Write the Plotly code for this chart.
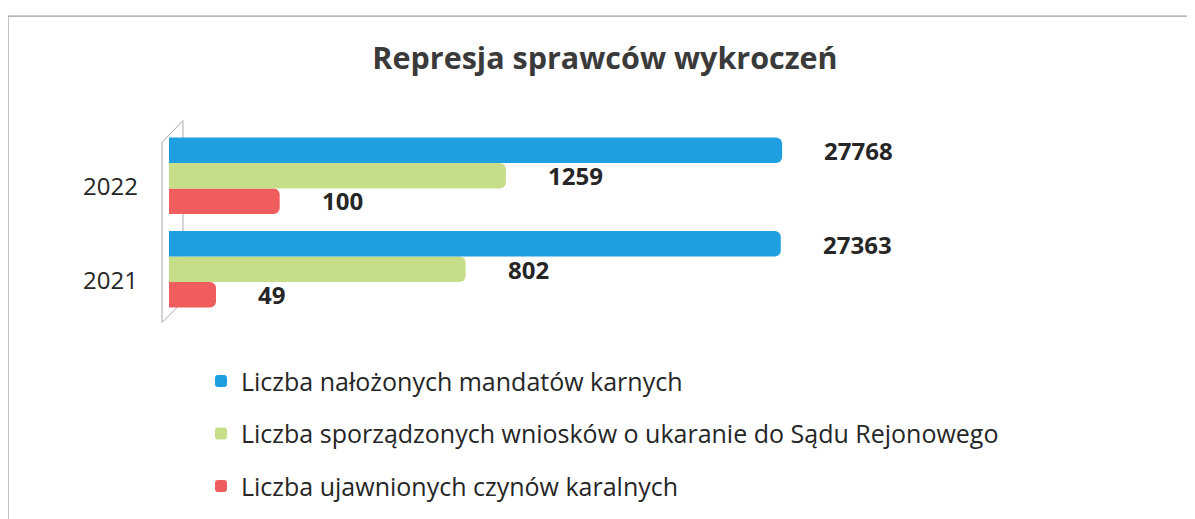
import math
import plotly.graph_objects as go

years = ["2021", "2022"]
series_names = [
    "Liczba nałożonych mandatów karnych",
    "Liczba sporządzonych wniosków o ukaranie do Sądu Rejonowego",
    "Liczba ujawnionych czynów karalnych",
]
mandaty = [27363, 27768]
wnioski = [802, 1259]
czyny = [49, 100]

colors = ["#1f9ee0", "#c6de8a", "#ef5d5f"]
FONT = "'Open Sans', Lato, sans-serif"

fig = go.Figure()
# traces added bottom-to-top within each group (red, green, blue)
data = [(series_names[2], czyny, colors[2], -25, 3),
        (series_names[1], wnioski, colors[1], 0, 2),
        (series_names[0], mandaty, colors[0], 25, 1)]
for i, (name, vals, col, shift, rank) in enumerate(data):
    fig.add_trace(go.Bar(
        y=years, x=vals, orientation="h", name=name,
        marker=dict(color=col, line=dict(width=0)),
        legendgroup=f"g{i}", legendrank=rank, hoverinfo="x+name",
    ))
    for k, xv in enumerate(vals):
        fig.add_annotation(
            x=math.log10(xv), y=k, xref="x", yref="y",
            text=f"<b>{xv}</b>", showarrow=False,
            xanchor="left", yanchor="middle", xshift=40, yshift=shift,
            font=dict(family=FONT, size=24, color="#262626"),
        )

# 3D wall (thin frame on the left)
fig.add_shape(type="path", xref="paper", yref="paper",
              path="M -0.0084 0.928 L 0.0168 1.045 L 0.0168 0.077 L -0.0084 -0.035 Z",
              line=dict(color="#a8a8b0", width=1), fillcolor="rgba(0,0,0,0)", layer="below")
# outer chart border
fig.add_shape(type="rect", xref="paper", yref="paper",
              x0=-0.1937, x1=1.3, y0=-1.2, y1=1.604,
              line=dict(color="#a0a0a0", width=1.2), fillcolor="rgba(0,0,0,0)")

fig.update_layout(
    width=1195, height=519,
    paper_bgcolor="white", plot_bgcolor="white",
    margin=dict(l=161, r=203, t=120.5, b=210.5, autoexpand=False),
    barmode="group", bargap=0.18, bargroupgap=0, barcornerradius=6,
    title=dict(text="<b>Represja sprawców wykroczeń</b>", x=0.4996, xanchor="center",
               y=1 - 50 / 519, yanchor="middle",
               font=dict(family=FONT, size=30.5, color="#3a3a3a")),
    xaxis=dict(type="log", range=[1.4616, 1.4616 + 831 / 205.6], visible=False),
    yaxis=dict(type="category", categoryorder="array", categoryarray=years,
               range=[-0.5, 1.5], autorange=False,
               showgrid=False, zeroline=False, showline=False, ticks="",
               tickfont=dict(family=FONT, size=24, color="#262626"),
               ticklabelstandoff=30, ticklabelshift=11, automargin=False),
    legend=dict(x=0.0385, y=-0.226,
                xanchor="left", yanchor="top", traceorder="grouped",
                tracegroupgap=17, font=dict(family=FONT, size=25, color="#262626"),
                bgcolor="rgba(0,0,0,0)"),
    showlegend=True,
)

fig.write_html("out.html")
